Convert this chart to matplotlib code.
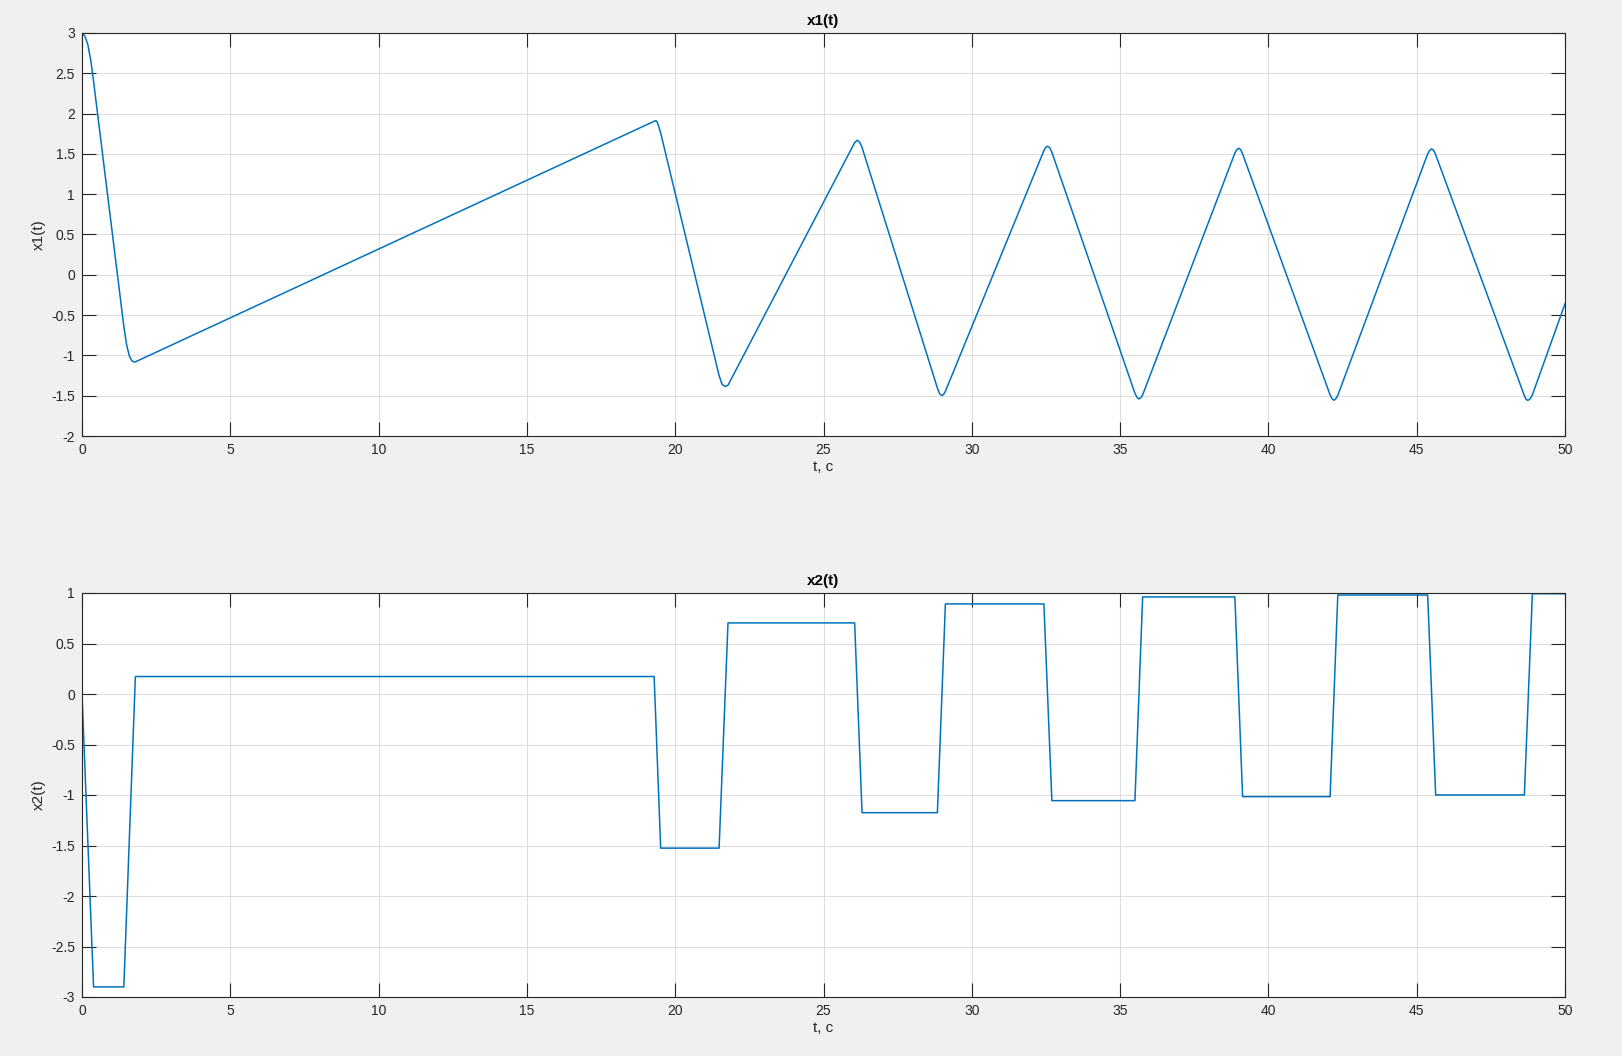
import matplotlib
matplotlib.use("Agg")
import matplotlib.pyplot as plt
from matplotlib.ticker import FuncFormatter

plt.rcParams['font.family'] = ['Liberation Sans', 'DejaVu Sans']
plt.rcParams['axes.unicode_minus'] = False

# x1(t) (vertices, with a few points on the rounded corners)
t1 = [0, 0.1, 0.2, 0.3, 0.39,
      1.41, 1.51, 1.60, 1.68, 1.76, 1.80,
      19.29, 19.35, 19.40, 19.51,
      21.48, 21.58, 21.68, 21.78,
      26.05, 26.14, 26.22, 26.30,
      28.84, 28.92, 28.99, 29.05, 29.11,
      32.43, 32.49, 32.55, 32.62, 32.70,
      35.50, 35.57, 35.63, 35.70, 35.76,
      38.87, 38.94, 39.00, 39.06, 39.13,
      42.08, 42.15, 42.21, 42.27, 42.34,
      45.37, 45.44, 45.50, 45.57, 45.64,
      48.63, 48.69, 48.75, 48.82, 48.90,
      50.0]
x1 = [3.00, 2.96, 2.85, 2.65, 2.40,
      -0.64, -0.88, -1.01, -1.065, -1.083, -1.08,
      1.905, 1.913, 1.89, 1.76,
      -1.25, -1.36, -1.385, -1.37,
      1.64, 1.67, 1.645, 1.58,
      -1.405, -1.48, -1.497, -1.485, -1.445,
      1.54, 1.58, 1.595, 1.58, 1.52,
      -1.47, -1.52, -1.54, -1.525, -1.49,
      1.51, 1.555, 1.57, 1.555, 1.50,
      -1.49, -1.54, -1.556, -1.54, -1.495,
      1.50, 1.545, 1.562, 1.545, 1.49,
      -1.50, -1.545, -1.558, -1.54, -1.49,
      -0.36]

# x2(t) breakpoints
t2 = [0, 0.39, 1.41, 1.80, 19.29, 19.51, 21.48, 21.78, 26.05, 26.30,
      28.84, 29.11, 32.43, 32.70, 35.50, 35.76, 38.87, 39.13, 42.08, 42.34,
      45.37, 45.64, 48.63, 48.90, 50.0]
x2 = [0, -2.90, -2.90, 0.173, 0.173, -1.526, -1.526, 0.704, 0.704, -1.175,
      -1.175, 0.892, 0.892, -1.056, -1.056, 0.961, 0.961, -1.016, -1.016, 0.98,
      0.98, -1.0, -1.0, 0.993, 0.993]

W, H = 1622, 1056
fig = plt.figure(figsize=(W / 100, H / 100), dpi=100, facecolor='#f0f0f0')

left = 82 / W
width = (1565 - 82) / W
ax1 = fig.add_axes([left, 1 - 436 / H, width, (436 - 33) / H])
ax2 = fig.add_axes([left, 1 - 997 / H, width, (997 - 593) / H])

fmt = FuncFormatter(lambda v, p: '%g' % v)
txt = '#262626'

for ax, t, x, name, ylim, step in [(ax1, t1, x1, 'x1(t)', (-2, 3), 0.5),
                                    (ax2, t2, x2, 'x2(t)', (-3, 1), 0.5)]:
    ax.plot(t, x, color='#0072bd', linewidth=1.1)
    ax.set_xlim(0, 50)
    ax.set_ylim(*ylim)
    ax.set_xticks(range(0, 51, 5))
    yt = [ylim[0] + i * step for i in range(int((ylim[1] - ylim[0]) / step) + 1)]
    ax.set_yticks(yt)
    ax.xaxis.set_major_formatter(fmt)
    ax.yaxis.set_major_formatter(fmt)
    ax.grid(True, color='#dedede', linewidth=0.8)
    ax.set_axisbelow(True)
    ax.tick_params(direction='in', length=10, width=0.8, top=True, right=True,
                   labelsize=10, colors='#262626', pad=5)
    for s in ax.spines.values():
        s.set_color('#262626')
        s.set_linewidth(0.8)
    ax.set_title(name, fontsize=11, fontweight='bold', color='black', pad=6)
    ax.set_xlabel('t, c', fontsize=11, color=txt, labelpad=2)
    ax.set_ylabel(name, fontsize=11, color=txt, labelpad=4)

fig.savefig('out.png', dpi=100, facecolor=fig.get_facecolor())
